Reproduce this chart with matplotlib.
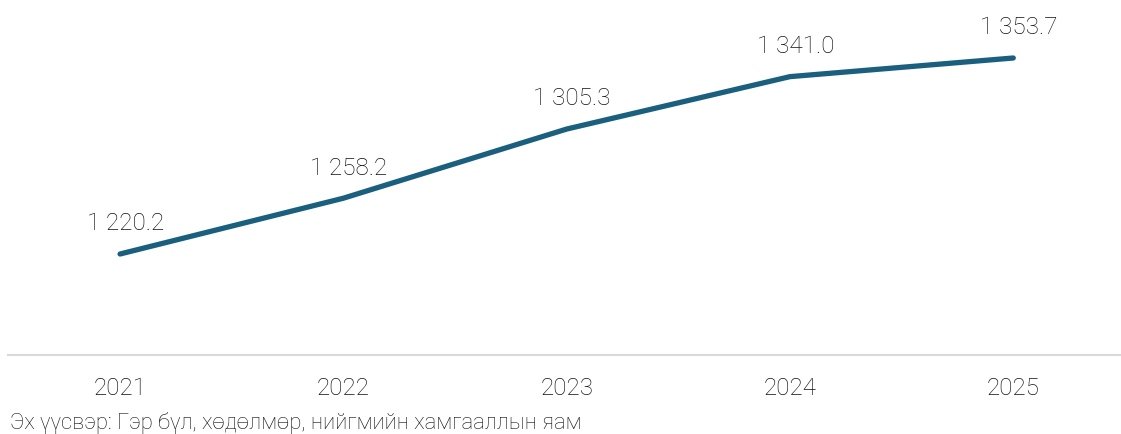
import matplotlib
matplotlib.use('Agg')
import matplotlib.pyplot as plt

years = ['2021', '2022', '2023', '2024', '2025']
values = [1220.2, 1258.2, 1305.3, 1341.0, 1353.7]
labels = ['1 220.2', '1 258.2', '1 305.3', '1 341.0', '1 353.7']
source = 'Эх үүсвэр: Гэр бүл, хөдөлмөр, нийгмийн хамгааллын яам'

plt.rcParams['font.family'] = ['Roboto', 'DejaVu Sans']

fig = plt.figure(figsize=(11.21, 4.34), dpi=100)
ax = fig.add_axes([0.0075, 0.182, 0.996, 0.818])

x = range(len(years))
ax.plot(x, values, color='#1b5f7f', linewidth=3.8, solid_capstyle='round',
        solid_joinstyle='round')

for xi, v, lab in zip(x, values, labels):
    ax.annotate(lab, (xi, v), xytext=(4, 17), textcoords='offset points',
                ha='center', va='baseline', fontsize=17.5, fontweight='light',
                color='#111111')

ax.set_xlim(-0.5, 4.5)
ax.set_ylim(1151.4, 1393.2)
ax.set_xticks(list(x))
ax.set_xticklabels(years, fontsize=17.4, fontweight='light', color='#111111')
ax.tick_params(axis='x', length=0, pad=16)
ax.set_yticks([])
for s in ['top', 'right', 'left']:
    ax.spines[s].set_visible(False)
ax.spines['bottom'].set_color('#d9d9d9')
ax.spines['bottom'].set_linewidth(1.5)

fig.text(0.009, 0.025, source, fontsize=15.8, fontweight='light', color='#111111',
         ha='left', va='center', transform=fig.transFigure)
fig.texts[-1].set_y(1 - 423 / 434)

fig.savefig('out.png', dpi=100)
